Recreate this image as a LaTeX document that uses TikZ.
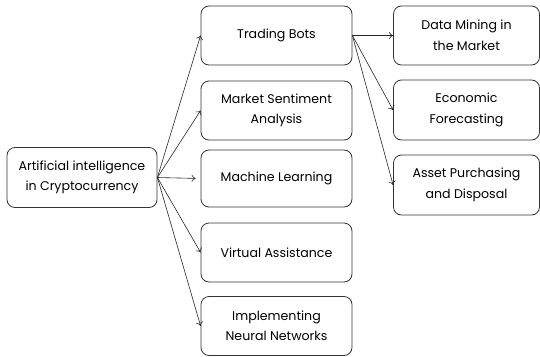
\documentclass[tikz,border=0pt]{standalone}
\usepackage{fontspec}
\setmainfont{Poppins}
\usetikzlibrary{arrows.meta}
\begin{document}
\begin{tikzpicture}[x=1pt,y=-1pt,
  box/.style={draw=black!80,line width=0.8pt,rounded corners=8pt,align=center,
    inner sep=0pt,font=\fontsize{12.6}{20.5}\selectfont},
  conn/.style={draw=black!85,line width=0.6pt,-{To[length=4pt,width=7pt]}}]
\useasboundingbox (0,0) rectangle (540,356);
\node[box,minimum width=150pt,minimum height=60pt] (root) at (82,177.5) {Artificial intelligence\\in Cryptocurrency};
\node[box,minimum width=151pt,minimum height=59pt] (tb) at (276.5,35.5) {Trading Bots};
\node[box,minimum width=151pt,minimum height=59pt] (ms) at (276.5,110.5) {Market Sentiment\\Analysis};
\node[box,minimum width=151pt,minimum height=57pt] (ml) at (276.5,178.5) {Machine Learning};
\node[box,minimum width=151pt,minimum height=59pt] (va) at (276.5,252.5) {Virtual Assistance};
\node[box,minimum width=151pt,minimum height=59pt] (nn) at (276.5,326) {Implementing\\Neural Networks};
\node[box,minimum width=146pt,minimum height=59pt] (dm) at (466.5,35.5) {Data Mining in\\the Market};
\node[box,minimum width=146pt,minimum height=60pt] (ef) at (466.5,110) {Economic\\Forecasting};
\node[box,minimum width=146pt,minimum height=60pt] (ap) at (466.5,185) {Asset Purchasing\\and Disposal};
\foreach \t in {tb,ms,va,nn} \draw[conn] (root.east) -- (\t.west);
\draw[conn,shorten >=5pt] (root.east) -- (ml.west);
\foreach \t in {dm,ef,ap} \draw[conn] (tb.east) -- (\t.west);
\end{tikzpicture}
\end{document}
